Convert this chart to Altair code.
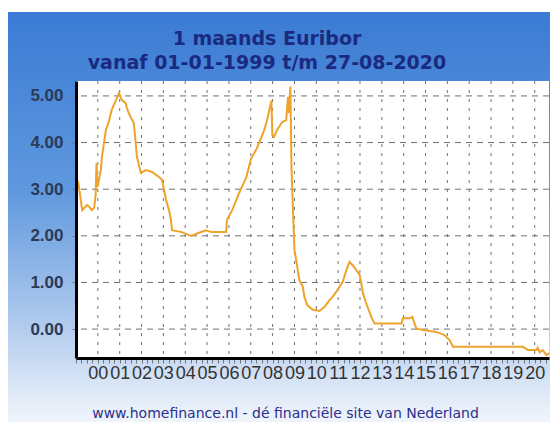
import altair as alt
import pandas as pd

# ---- data ----
DATES = [
    "1999-01-01", "1999-02-10", "1999-04-15", "1999-05-20", "1999-07-01", "1999-08-15",
    "1999-09-20", "1999-11-01", "1999-11-25", "1999-12-10", "1999-12-28",
    "2000-02-20", "2000-03-10", "2000-05-15", "2000-07-01", "2000-08-20", "2000-10-30",
    "2000-12-20", "2001-02-05", "2001-04-10", "2001-05-01", "2001-06-01", "2001-07-01",
    "2001-08-25", "2001-09-25", "2001-10-15", "2001-12-20", "2002-03-15", "2002-06-25",
    "2002-10-20", "2002-12-10", "2003-02-15", "2003-04-05", "2003-05-08", "2003-05-25",
    "2003-11-05", "2004-04-08", "2004-08-08", "2004-12-15", "2005-03-15", "2005-11-15",
    "2005-11-28", "2006-02-25", "2006-06-15", "2006-10-20", "2007-01-05", "2007-04-15",
    "2007-08-10", "2007-10-01", "2007-12-12", "2007-12-28", "2008-01-25", "2008-03-15",
    "2008-06-10", "2008-08-15", "2008-09-15", "2008-09-25", "2008-10-25", "2008-11-10",
    "2008-11-25", "2009-01-01", "2009-03-25", "2009-05-20", "2009-06-15", "2009-08-05",
    "2009-10-30", "2010-02-25", "2010-05-20", "2010-08-10", "2010-10-01", "2010-12-01",
    "2011-01-25", "2011-03-20", "2011-05-20", "2011-07-10", "2011-09-01", "2011-10-30",
    "2011-12-28", "2012-02-20", "2012-04-15", "2012-07-08", "2012-09-01", "2013-11-25",
    "2013-12-20", "2014-04-10", "2014-05-25", "2014-08-01", "2014-11-20", "2015-07-01",
    "2015-11-15", "2016-02-10", "2016-04-05", "2019-06-20", "2019-09-10", "2020-01-30",
    "2020-02-20", "2020-03-25", "2020-05-15", "2020-07-15", "2020-08-27",
]
RATES = [
    3.24, 3.13, 2.55, 2.60, 2.66, 2.62,
    2.55, 2.60, 2.87, 3.56, 3.05,
    3.41, 3.70, 4.27, 4.44, 4.70, 4.91,
    5.06, 4.91, 4.85, 4.74, 4.63, 4.55,
    4.42, 3.99, 3.70, 3.35, 3.41, 3.37,
    3.26, 3.20, 2.77, 2.55, 2.34, 2.12,
    2.08, 2.00, 2.06, 2.12, 2.08, 2.08,
    2.34, 2.55, 2.90, 3.26, 3.65, 3.88,
    4.25, 4.48, 4.90, 4.16, 4.12, 4.27,
    4.44, 4.48, 4.98, 4.63, 5.20, 3.56,
    2.98, 1.70, 1.05, 0.91, 0.69, 0.51,
    0.42, 0.39, 0.48, 0.62, 0.69, 0.80,
    0.91, 1.02, 1.27, 1.44, 1.37, 1.27,
    1.16, 0.77, 0.55, 0.26, 0.12, 0.12,
    0.23, 0.23, 0.26, 0.01, -0.02, -0.06,
    -0.13, -0.24, -0.38, -0.38, -0.45, -0.45,
    -0.40, -0.50, -0.45, -0.56, -0.52,
]
YEARS = list(range(2000, 2021))          # labelled years on the x axis
Y_TICKS = [0, 1, 2, 3, 4, 5]             # y axis tick values
TITLE_1 = "1 maands Euribor"
TITLE_2 = "vanaf 01-01-1999 t/m 27-08-2020"
FOOTER = "www.homefinance.nl - dé financiële site van Nederland"

W, H = 473, 277
SANS = "Arial, Liberation Sans, sans-serif"

line_df = pd.DataFrame({"datum": DATES, "rente": RATES})
year_df = pd.DataFrame({"jaar": [f"{y}-01-01" for y in YEARS]})
ytick_df = pd.DataFrame({"v": Y_TICKS})
title_df = pd.DataFrame({"t": [TITLE_1, TITLE_2], "r": [0, 1]})
one = pd.DataFrame({"k": [0]})

quarter_ticks = [alt.DateTime(year=y, month=m, date=1, utc=True)
                 for y in range(1999, 2021) for m in (1, 4, 7, 10)
                 if not (y == 2020 and m == 10)]

xscale = alt.Scale(type="utc",
                   domain=[alt.DateTime(year=1999, month=1, date=1, utc=True),
                           alt.DateTime(year=2020, month=8, date=27, utc=True)])
yscale = alt.Scale(domain=[-0.62, 5.32], nice=False, zero=False)

grad = alt.LinearGradient(
    gradient="linear", x1=0, x2=0, y1=0, y2=1,
    stops=[alt.GradientStop(color="#3b7bd4", offset=0),
           alt.GradientStop(color="#5f98de", offset=0.42),
           alt.GradientStop(color="#b3ccee", offset=0.75),
           alt.GradientStop(color="#e3ecf8", offset=0.92),
           alt.GradientStop(color="#f7f9fd", offset=1)])

bg = alt.Chart(one).mark_rect(color=grad).encode(
    x=alt.value(-69), x2=alt.value(W + 20), y=alt.value(-69), y2=alt.value(H + 76))
plot_bg = alt.Chart(one).mark_rect(color="white").encode(
    x=alt.value(0), x2=alt.value(W), y=alt.value(0), y2=alt.value(H))

title1 = alt.Chart(title_df).transform_filter("datum.r == 0").mark_text(
    font="DejaVu Sans", fontSize=19, fontWeight="bold", color="#1a2a80",
    align="center", baseline="middle").encode(
    text="t:N", x=alt.value(191), y=alt.value(-42))
title2 = alt.Chart(title_df).transform_filter("datum.r == 1").mark_text(
    font="DejaVu Sans", fontSize=19, fontWeight="bold", color="#1a2a80",
    align="center", baseline="middle").encode(
    text="t:N", x=alt.value(191), y=alt.value(-18))

vgrid = alt.Chart(year_df).mark_rule(color="#707070", strokeDash=[3, 6], strokeWidth=1).encode(
    x=alt.X("jaar:T", scale=xscale, axis=None))
hgrid = alt.Chart(ytick_df).mark_rule(color="#707070", strokeDash=[6, 5], strokeWidth=1).encode(
    y=alt.Y("v:Q", scale=yscale, axis=None))

line = alt.Chart(line_df).mark_line(color="#eea32c", strokeWidth=2).encode(
    x=alt.X("datum:T", scale=xscale,
            axis=alt.Axis(values=quarter_ticks,
                          labelExpr="(utcmonth(datum.value) == 0 && utcyear(datum.value) > 1999) ? utcFormat(datum.value, '%y') : ''",
                          labelFont=SANS, labelFontSize=18, labelColor="#333333",
                          labelPadding=1, labelOverlap=False, labelFlush=False,
                          tickSize=5, tickColor="#777777", tickWidth=1,
                          domainColor="black", domainWidth=3, grid=False,
                          title=FOOTER, titleFont="DejaVu Sans", titleFontSize=14,
                          titleFontWeight="normal", titleColor="#2b2f8c",
                          titleX=209, titleY=55, titleBaseline="middle", titleAlign="center",
                          zindex=1)),
    y=alt.Y("rente:Q", scale=yscale,
            axis=alt.Axis(values=Y_TICKS, format=".2f",
                          labelFont=SANS, labelFontSize=17, labelFontWeight="bold",
                          labelColor="#2a3a58", labelPadding=9,
                          tickSize=4, tickColor="#777777",
                          domainColor="black", domainWidth=3, grid=False,
                          title=None, zindex=1)),
)

chart = alt.layer(bg, plot_bg, vgrid, hgrid, line, title1, title2).resolve_axis(
    x="independent", y="independent"
).properties(
    width=W, height=H,
    padding={"left": 68, "top": 73, "right": 1, "bottom": 64},
    autosize=alt.AutoSizeParams(type="none"),
    background="white",
).configure_view(strokeWidth=0)

chart.save("out.html", embed_options={"renderer": "svg", "actions": False})
